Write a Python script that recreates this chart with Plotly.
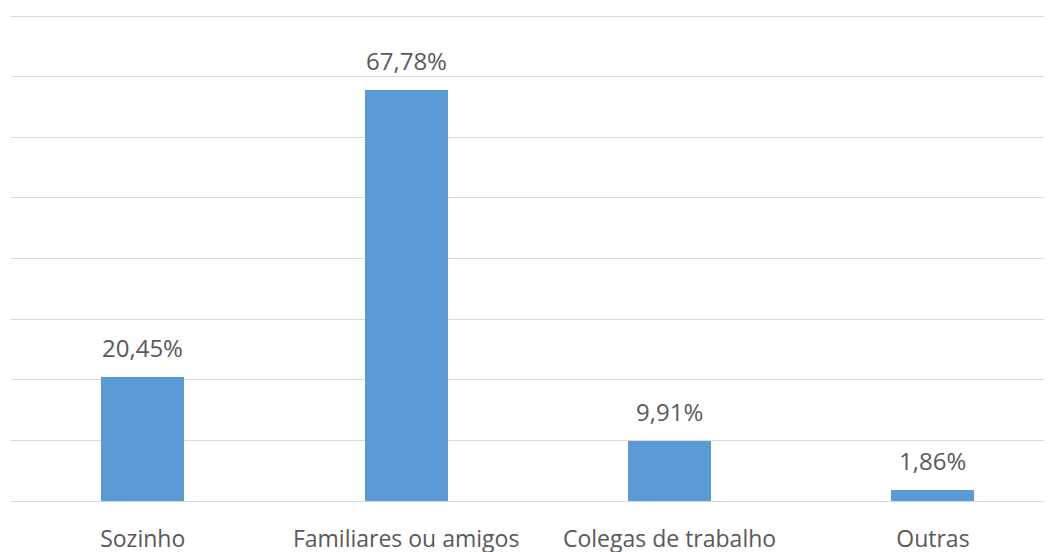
import plotly.graph_objects as go

categories = ["Sozinho", "Familiares ou amigos", "Colegas de trabalho", "Outras"]
values = [20.45, 67.78, 9.91, 1.86]
labels = ["20,45%", "67,78%", "9,91%", "1,86%"]

bar_color = "#5B9BD5"
text_color = "#595959"
font_family = "Open Sans"

fig = go.Figure()
fig.add_trace(go.Bar(
    x=list(range(len(categories))),
    y=values,
    marker=dict(color=bar_color, line=dict(width=0)),
    width=0.315,
    hoverinfo="skip",
))

for i, (v, t) in enumerate(zip(values, labels)):
    fig.add_annotation(
        x=i, y=v, text=t, showarrow=False,
        yanchor="bottom", yshift=11,
        font=dict(family=font_family, size=24, color=text_color),
    )

fig.update_layout(
    width=1044, height=544,
    margin=dict(l=3, r=0, t=0, b=51),
    paper_bgcolor="white", plot_bgcolor="white",
    showlegend=False,
    bargap=0,
)
fig.update_xaxes(
    automargin=False,
    range=[-0.5, 3.452],
    tickmode="array",
    tickvals=list(range(len(categories))),
    ticktext=categories,
    tickfont=dict(family=font_family, size=23, color=text_color),
    ticks="outside", ticklen=17, tickcolor="rgba(0,0,0,0)",
    showgrid=False, zeroline=False, showline=False,
)
fig.update_yaxes(
    automargin=False,
    range=[0, 81.32],
    dtick=10,
    showticklabels=False,
    showgrid=True, gridcolor="#D9D9D9", gridwidth=1,
    zeroline=True, zerolinecolor="#D9D9D9", zerolinewidth=1,
)

fig.write_html("out.html")
